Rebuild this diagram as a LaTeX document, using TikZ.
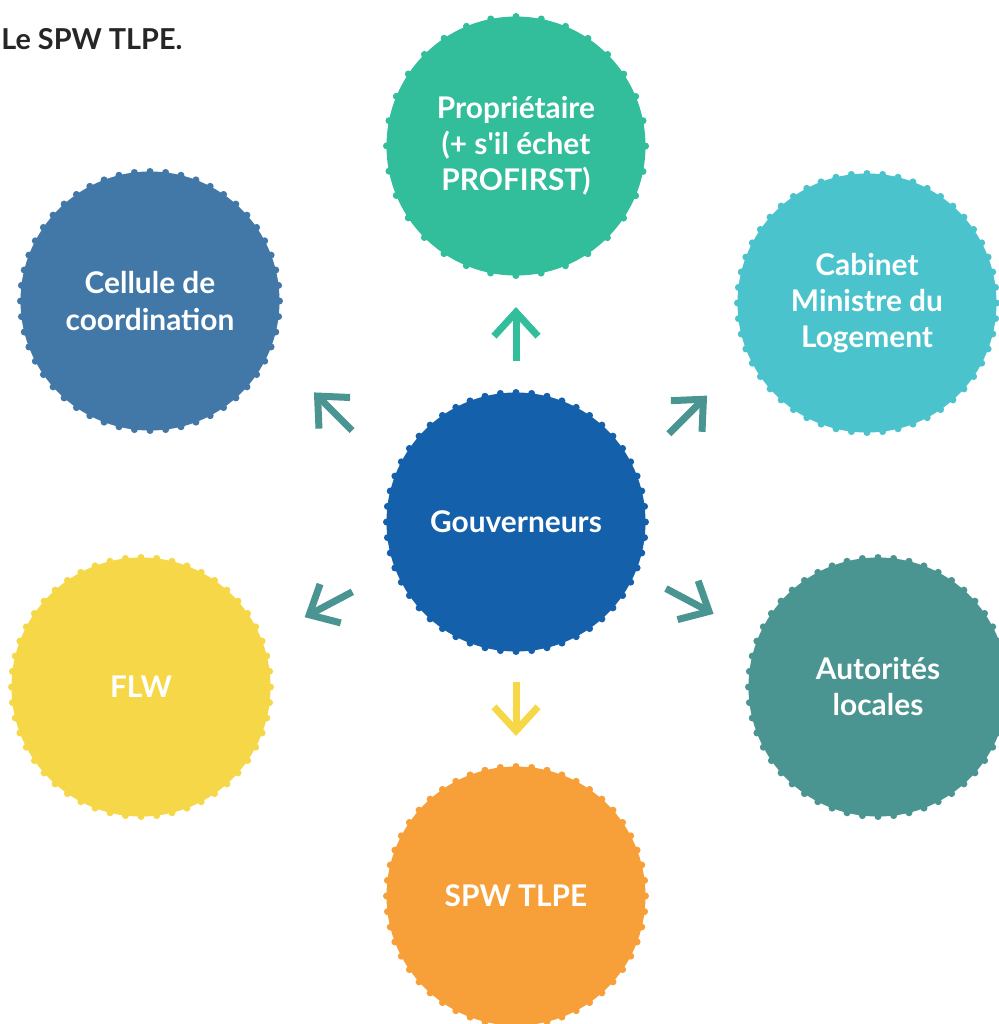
\documentclass[tikz,border=0pt]{standalone}
\usepackage{fontspec}
\setmainfont{Lato}
\usetikzlibrary{positioning,calc,arrows.meta}

\definecolor{propgreen}{RGB}{50,189,155}
\definecolor{cellblue}{RGB}{66,120,168}
\definecolor{cabcyan}{RGB}{74,195,204}
\definecolor{gouvblue}{RGB}{21,96,170}
\definecolor{flwyellow}{RGB}{246,215,72}
\definecolor{autteal}{RGB}{74,148,145}
\definecolor{spworange}{RGB}{247,160,58}

\begin{document}
\begin{tikzpicture}[
  bub/.style={circle, minimum size=51.8mm, inner sep=0pt, fill=#1, draw=#1,
    line width=1.4mm, line cap=round, dash pattern=on 0pt off 3.13mm,
    text=white, align=center, font=\bfseries\fontsize{17}{20.5}\selectfont},
  flow/.style={draw=#1, line width=1.4mm, -{Straight Barb[sharp, length=4.8mm, width=8.8mm]}}]

	\useasboundingbox (0,0) rectangle (199.6mm,-204.8mm);

	\node (t) [anchor=base west, inner sep=0pt, text=black!85, font=\bfseries\fontsize{16.4}{19}\selectfont] at (0.2mm,-9.8mm) {Le SPW TLPE.};

	\node (g) [bub=gouvblue] at (103.2mm,-104.4mm) {Gouverneurs};
	\begin{scope}[on grid]
		\node (p) [bub=propgreen, dash pattern=on 0pt off 5.085mm, above=75.2mm of g] {Propriétaire\\(+ s\textquotesingle il échet\\PROFIRST)};
		\node (cc) [bub=cellblue, above left=44.2mm and 73.2mm of g] {Cellule de\\coordination};
		\node (cm) [bub=cabcyan, above right=43.8mm and 70.2mm of g] {Cabinet\\Ministre du\\Logement};
		\node (f) [bub=flwyellow, below left=33mm and 75mm of g] {FLW};
		\node (al) [bub=autteal, below right=33mm and 72.4mm of g] {Autorités\\locales};
		\node (s) [bub=spworange, below=74.8mm of g] {SPW TLPE};
	\end{scope}

	\draw [flow=propgreen] ($(g)!.5!(p)$) ++(270:5.4mm) -- ++(90:10.8mm);
	\draw [flow=autteal] ($(g)!.5!(cc)$) ++(315:5.4mm) -- ++(135:10.8mm);
	\draw [flow=autteal] ($(g)!.49!(cm)$) ++(225:5.4mm) -- ++(45:10.8mm);
	\draw [flow=autteal] ($(g)!.5!(f)$) ++(28:5.4mm) -- ++(208:10.8mm);
	\draw [flow=autteal] ($(g)!.48!(al)$) ++(152:5.4mm) -- ++(332:10.8mm);
	\draw [flow=flwyellow] ($(g)!.5!(s)$) ++(90:5.4mm) -- ++(270:10.8mm);
\end{tikzpicture}
\end{document}
